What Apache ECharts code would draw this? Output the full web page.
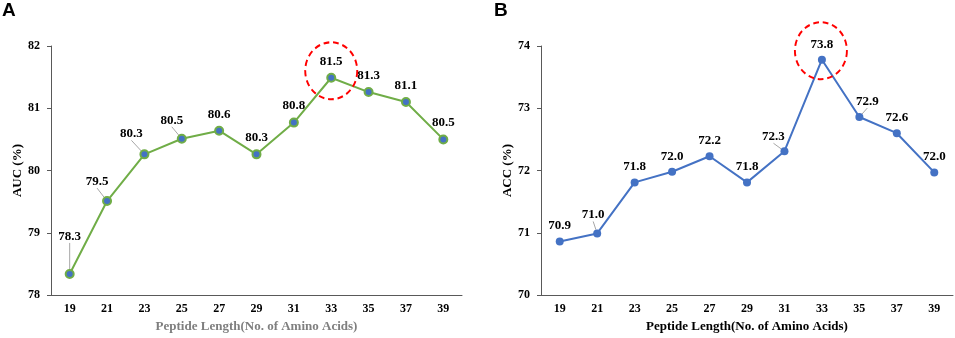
<!DOCTYPE html>
<html>
<head>
<meta charset="utf-8">
<script src="https://cdn.jsdelivr.net/npm/echarts@6/dist/echarts.min.js"></script>
<style>
  html, body { margin: 0; padding: 0; background: #fff; }
  #chart { width: 955px; height: 338px; }
</style>
</head>
<body>
<div id="chart"></div>
<script>
// peptide lengths on the x axis
const categories = ['19', '21', '23', '25', '27', '29', '31', '33', '35', '37', '39']
// panel A: AUC (%)
const aucValues = [78.34, 79.51, 80.26, 80.51, 80.64, 80.26, 80.77, 81.49, 81.26, 81.10, 80.50]
// panel B: ACC (%)
const accValues = [70.86, 70.99, 71.81, 71.98, 72.23, 71.81, 72.31, 73.78, 72.86, 72.60, 71.97]
const aucRange = [78, 82]
const accRange = [70, 74]

// labels that sit off their point (with a leader line), by data index
const aucLabelShift = { 0: [0, -21], 1: [-10, -3], 2: [-13, -4], 3: [-10, -2] }
const accLabelShift = { 1: [-4, -3], 6: [-11, 1], 8: [8, 0] }

const serif = 'Liberation Serif, Times New Roman, serif'
const axisColor = '#595959'

function buildData(values, shift) {
  return values.map((v, i) => shift[i] ? { value: v, labelLine: { show: true } } : v)
}

function xAxisFor(gridIndex, nameColor) {
  return {
    type: 'category',
    gridIndex: gridIndex,
    data: categories,
    boundaryGap: true,
    name: 'Peptide Length(No. of Amino Acids)',
    nameLocation: 'middle',
    nameGap: 24,
    nameTextStyle: { fontFamily: serif, fontWeight: 'bold', fontSize: 13, color: nameColor },
    axisLine: { lineStyle: { color: axisColor, width: 1 } },
    axisTick: { show: false },
    axisLabel: { fontFamily: serif, fontWeight: 'bold', fontSize: 12, color: '#000', margin: 8 },
    splitLine: { show: false }
  }
}

function yAxisFor(gridIndex, name, range) {
  return {
    type: 'value',
    gridIndex: gridIndex,
    min: range[0],
    max: range[1],
    interval: 1,
    name: name,
    nameLocation: 'middle',
    nameGap: 26,
    nameTextStyle: { fontFamily: serif, fontWeight: 'bold', fontSize: 13, color: '#000' },
    axisLine: { show: true, lineStyle: { color: axisColor, width: 1 } },
    axisTick: { show: true, length: 4, lineStyle: { color: axisColor } },
    axisLabel: { fontFamily: serif, fontWeight: 'bold', fontSize: 12, color: '#000', margin: 11 },
    splitLine: { show: false }
  }
}

function seriesFor(idx, values, shift, lineColor, dotColor, circleOffset) {
  return {
    type: 'line',
    xAxisIndex: idx,
    yAxisIndex: idx,
    data: buildData(values, shift),
    symbol: 'circle',
    symbolSize: 8,
    lineStyle: { color: lineColor, width: 2 },
    itemStyle: { color: dotColor, borderColor: lineColor, borderWidth: idx === 0 ? 2 : 0 },
    label: {
      show: true,
      position: 'top',
      distance: 5,
      fontFamily: serif,
      fontWeight: 'bold',
      fontSize: 13,
      color: '#000',
      formatter: (p) => p.value.toFixed(1)
    },
    labelLine: { lineStyle: { color: '#A6A6A6', width: 1 } },
    labelLayout: function(params) {
      const s = shift[params.dataIndex]
      return s ? { dx: s[0], dy: s[1] } : {}
    },
    emphasis: { disabled: true },
    markPoint: {
      silent: true,
      symbol: 'circle',
      symbolSize: [52, 57],
      symbolOffset: circleOffset,
      label: { show: false },
      itemStyle: { color: 'rgba(0,0,0,0)', borderColor: '#FF0000', borderWidth: 2, borderType: [6, 4] },
      data: [{ type: 'max' }]
    },
    z: 3
  }
}

const myChart = echarts.init(document.getElementById('chart'))
const option = {
  animation: false,
  title: [
    { text: 'A', left: 2, top: 1, padding: 0, textStyle: { fontFamily: 'Liberation Sans, Arial, sans-serif', fontWeight: 'bold', fontSize: 19, color: '#000' } },
    { text: 'B', left: 494, top: 1, padding: 0, textStyle: { fontFamily: 'Liberation Sans, Arial, sans-serif', fontWeight: 'bold', fontSize: 19, color: '#000' } }
  ],
  grid: [
    { left: 51, top: 46, width: 411, height: 254 },
    { left: 541, top: 46, width: 412, height: 254 }
  ],
  xAxis: [xAxisFor(0, '#7F7F7F'), xAxisFor(1, '#000')],
  yAxis: [yAxisFor(0, 'AUC (%)', aucRange), yAxisFor(1, 'ACC (%)', accRange)],
  series: [
    seriesFor(0, aucValues, aucLabelShift, '#70AD47', '#4472C4', [0, -7]),
    seriesFor(1, accValues, accLabelShift, '#4472C4', '#4472C4', [-1, -9])
  ]
}
myChart.setOption(option)
</script>
</body>
</html>
